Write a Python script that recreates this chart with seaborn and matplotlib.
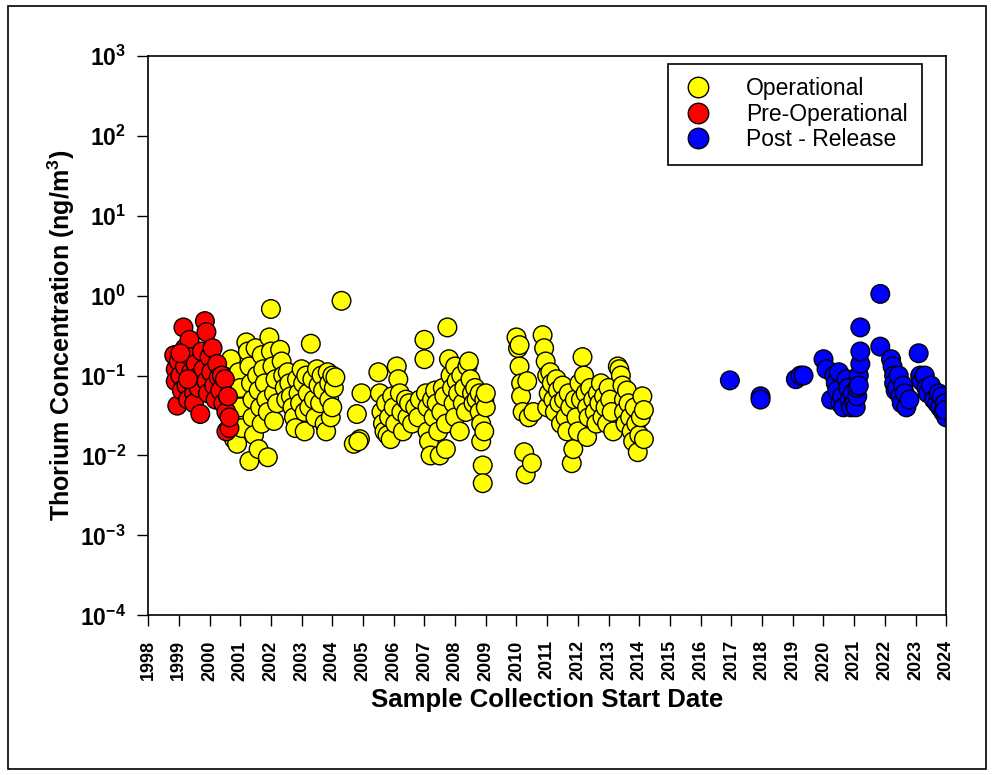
import matplotlib
matplotlib.use("Agg")
import matplotlib.pyplot as plt
import numpy as np
import pandas as pd
import seaborn as sns
from matplotlib.patches import Rectangle
from matplotlib.ticker import FuncFormatter, LogLocator, NullLocator

# (decimal year, thorium ng/m3)
PRE_OPERATIONAL = [
    (1998.85, 0.18), (1998.9, 0.12), (1998.9, 0.085), (1998.95, 0.042), (1999.0, 0.15),
    (1999.05, 0.1), (1999.1, 0.065), (1999.15, 0.4), (1999.2, 0.22), (1999.2, 0.13),
    (1999.25, 0.075), (1999.3, 0.05), (1999.35, 0.28), (1999.4, 0.17), (1999.4, 0.11),
    (1999.45, 0.08), (1999.5, 0.06), (1999.5, 0.045), (1999.55, 0.14), (1999.6, 0.095),
    (1999.65, 0.07), (1999.7, 0.033), (1999.75, 0.2), (1999.8, 0.12), (1999.85, 0.48),
    (1999.9, 0.35), (1999.9, 0.085), (1999.95, 0.06), (2000.0, 0.17), (2000.05, 0.11),
    (2000.1, 0.22), (2000.15, 0.075), (2000.2, 0.05), (2000.25, 0.14), (2000.3, 0.095),
    (2000.35, 0.065), (2000.4, 0.1), (2000.45, 0.045), (2000.5, 0.09), (2000.55, 0.035),
    (2000.55, 0.02), (2000.6, 0.055), (2000.65, 0.022), (2000.65, 0.03), (1999.05, 0.19),
    (1999.3, 0.09),
]

OPERATIONAL = [
    (2000.7, 0.16), (2000.75, 0.09), (2000.8, 0.05), (2000.85, 0.03), (2000.8, 0.016),
    (2000.9, 0.014), (2000.95, 0.11), (2001.0, 0.07), (2001.0, 0.04), (2001.05, 0.022),
    (2001.2, 0.26), (2001.25, 0.2), (2001.3, 0.13), (2001.3, 0.0085), (2001.35, 0.08),
    (2001.4, 0.05), (2001.4, 0.03), (2001.45, 0.018), (2001.5, 0.22), (2001.55, 0.1),
    (2001.6, 0.065), (2001.6, 0.012), (2001.65, 0.04), (2001.7, 0.025), (2001.7, 0.18),
    (2001.75, 0.12), (2001.8, 0.08), (2001.85, 0.05), (2001.9, 0.0095), (2001.9, 0.035),
    (2001.95, 0.3), (2002.0, 0.68), (2002.0, 0.2), (2002.05, 0.13), (2002.1, 0.06),
    (2002.1, 0.027), (2002.15, 0.09), (2002.2, 0.045), (2002.3, 0.21), (2002.35, 0.15),
    (2002.4, 0.1), (2002.45, 0.07), (2002.5, 0.05), (2002.55, 0.11), (2002.6, 0.08),
    (2002.65, 0.055), (2002.7, 0.04), (2002.75, 0.03), (2002.8, 0.022), (2002.85, 0.09),
    (2002.9, 0.06), (2002.95, 0.045), (2003.0, 0.12), (2003.05, 0.08), (2003.1, 0.035),
    (2003.1, 0.02), (2003.15, 0.1), (2003.2, 0.06), (2003.25, 0.04), (2003.3, 0.25),
    (2003.35, 0.09), (2003.4, 0.05), (2003.45, 0.03), (2003.5, 0.12), (2003.55, 0.075),
    (2003.6, 0.045), (2003.65, 0.1), (2003.7, 0.065), (2003.75, 0.025), (2003.8, 0.02),
    (2003.85, 0.11), (2003.9, 0.08), (2003.9, 0.05), (2003.95, 0.03), (2004.0, 0.1),
    (2004.0, 0.04), (2004.05, 0.07), (2004.1, 0.095), (2004.3, 0.86),
    (2004.7, 0.014), (2004.8, 0.033), (2004.9, 0.016), (2004.95, 0.06), (2004.85, 0.015),
    (2005.5, 0.11), (2005.55, 0.06), (2005.6, 0.035), (2005.65, 0.025), (2005.7, 0.02),
    (2005.75, 0.045), (2005.8, 0.018), (2005.85, 0.03), (2005.9, 0.016), (2005.95, 0.055),
    (2006.0, 0.04), (2006.05, 0.025), (2006.1, 0.13), (2006.15, 0.09), (2006.2, 0.06),
    (2006.25, 0.035), (2006.3, 0.02), (2006.4, 0.05), (2006.45, 0.03), (2006.5, 0.045),
    (2006.6, 0.025), (2006.7, 0.04), (2006.8, 0.03), (2006.85, 0.05),
    (2007.0, 0.28), (2007.0, 0.16), (2007.05, 0.06), (2007.1, 0.04), (2007.1, 0.02),
    (2007.15, 0.015), (2007.2, 0.01), (2007.25, 0.05), (2007.3, 0.03), (2007.35, 0.065),
    (2007.4, 0.045), (2007.45, 0.02), (2007.5, 0.01), (2007.55, 0.035), (2007.6, 0.07),
    (2007.65, 0.055), (2007.7, 0.025), (2007.7, 0.012), (2007.75, 0.4), (2007.8, 0.16),
    (2007.85, 0.1), (2007.9, 0.07), (2007.95, 0.045), (2008.0, 0.13), (2008.0, 0.03),
    (2008.05, 0.085), (2008.1, 0.06), (2008.15, 0.02), (2008.2, 0.1), (2008.25, 0.045),
    (2008.3, 0.07), (2008.35, 0.035), (2008.4, 0.13), (2008.45, 0.15), (2008.5, 0.09),
    (2008.55, 0.06), (2008.6, 0.045), (2008.65, 0.07), (2008.7, 0.05),
    (2008.8, 0.06), (2008.8, 0.035), (2008.85, 0.025), (2008.85, 0.015), (2008.9, 0.0075),
    (2008.9, 0.0045), (2008.95, 0.05), (2009.0, 0.04), (2009.0, 0.06), (2008.95, 0.02),
    (2010.0, 0.3), (2010.05, 0.22), (2010.1, 0.24), (2010.1, 0.13), (2010.15, 0.08),
    (2010.15, 0.055), (2010.2, 0.035), (2010.25, 0.011), (2010.3, 0.0058), (2010.35, 0.085),
    (2010.4, 0.03), (2010.5, 0.008), (2010.55, 0.035),
    (2010.85, 0.32), (2010.9, 0.22), (2010.95, 0.15), (2011.0, 0.1), (2011.0, 0.04),
    (2011.05, 0.06), (2011.1, 0.11), (2011.15, 0.08), (2011.2, 0.05), (2011.25, 0.035),
    (2011.3, 0.09), (2011.35, 0.065), (2011.4, 0.045), (2011.45, 0.025), (2011.5, 0.075),
    (2011.55, 0.05), (2011.6, 0.03), (2011.65, 0.02), (2011.7, 0.06), (2011.75, 0.04),
    (2011.8, 0.008), (2011.85, 0.012), (2011.9, 0.05), (2011.95, 0.03), (2012.0, 0.02),
    (2012.05, 0.08), (2012.1, 0.05), (2012.15, 0.17), (2012.2, 0.1), (2012.25, 0.06),
    (2012.3, 0.04), (2012.3, 0.017), (2012.35, 0.03), (2012.4, 0.07), (2012.5, 0.05),
    (2012.55, 0.035), (2012.6, 0.025), (2012.65, 0.06), (2012.7, 0.045), (2012.75, 0.08),
    (2012.8, 0.03), (2012.85, 0.055), (2012.9, 0.04), (2012.95, 0.025), (2013.0, 0.07),
    (2013.05, 0.05), (2013.1, 0.035), (2013.15, 0.02),
    (2013.3, 0.13), (2013.35, 0.12), (2013.4, 0.1), (2013.45, 0.075), (2013.5, 0.05),
    (2013.5, 0.035), (2013.55, 0.025), (2013.6, 0.065), (2013.65, 0.045), (2013.7, 0.03),
    (2013.75, 0.02), (2013.8, 0.015), (2013.85, 0.04), (2013.9, 0.025), (2013.95, 0.011),
    (2014.0, 0.018), (2014.05, 0.03), (2014.1, 0.055), (2014.15, 0.037), (2014.15, 0.016),
]

POST_RELEASE = [
    (2016.95, 0.087), (2017.95, 0.055), (2017.95, 0.05), (2019.1, 0.09), (2019.25, 0.1),
    (2019.35, 0.1), (2020.0, 0.16), (2020.1, 0.12), (2020.25, 0.05), (2020.35, 0.1),
    (2020.4, 0.08), (2020.45, 0.065), (2020.5, 0.11), (2020.55, 0.045), (2020.6, 0.055),
    (2020.65, 0.04), (2020.75, 0.09), (2020.8, 0.07), (2020.85, 0.05), (2020.9, 0.04),
    (2020.95, 0.06), (2021.0, 0.045), (2021.05, 0.04), (2021.1, 0.055), (2021.1, 0.07),
    (2021.15, 0.1), (2021.15, 0.075), (2021.2, 0.14), (2021.2, 0.2), (2021.2, 0.4),
    (2021.85, 1.05), (2021.85, 0.23), (2022.2, 0.16), (2022.25, 0.13), (2022.3, 0.1),
    (2022.3, 0.08), (2022.35, 0.065), (2022.4, 0.07), (2022.45, 0.1), (2022.5, 0.055),
    (2022.55, 0.045), (2022.6, 0.075), (2022.65, 0.06), (2022.7, 0.04), (2022.8, 0.05),
    (2023.1, 0.19), (2023.15, 0.1), (2023.2, 0.085), (2023.3, 0.1), (2023.35, 0.07),
    (2023.4, 0.06), (2023.5, 0.075), (2023.6, 0.05), (2023.7, 0.045), (2023.75, 0.06),
    (2023.8, 0.04), (2023.85, 0.055), (2023.9, 0.035), (2023.95, 0.045), (2024.0, 0.03),
    (2023.95, 0.037),
]

PERIODS = ["Operational", "Pre-Operational", "Post - Release"]
COLORS = {"Operational": "#ffff00", "Pre-Operational": "#ff0000", "Post - Release": "#0000ff"}
YEARS = list(range(1998, 2025))

plt.rcParams["font.family"] = ["Liberation Sans", "DejaVu Sans"]
plt.rcParams["mathtext.fontset"] = "custom"
plt.rcParams["mathtext.bf"] = "Liberation Sans:bold"
plt.rcParams["mathtext.rm"] = "Liberation Sans"
plt.rcParams["mathtext.default"] = "bf"

# yellow first, then red over it, blue last
frames = []
for name, pts in [("Operational", OPERATIONAL), ("Pre-Operational", PRE_OPERATIONAL),
                  ("Post - Release", POST_RELEASE)]:
    d = pd.DataFrame(pts, columns=["year", "conc"])
    d["period"] = name
    frames.append(d)
df = pd.concat(frames, ignore_index=True)

fig = plt.figure(figsize=(9.94, 7.75), dpi=100)
ax = fig.add_axes([0.149, 0.206, 0.803, 0.722])

sns.scatterplot(
    data=df, x="year", y="conc", hue="period", hue_order=PERIODS,
    palette=COLORS, s=180, edgecolor="black", linewidth=1.0, alpha=1, ax=ax,
)

ax.set_yscale("log")
ax.set_ylim(1e-4, 1e3)
ax.set_xlim(1998, 2024)
ax.yaxis.set_major_locator(LogLocator(base=10, numticks=12))
ax.yaxis.set_minor_locator(NullLocator())
ax.yaxis.set_major_formatter(FuncFormatter(lambda v, _: r"$10^{%d}$" % round(np.log10(v))))
ax.set_xticks(YEARS)
ax.set_xticklabels([str(y) for y in YEARS], rotation=90, fontweight="bold", fontsize=13)
ax.tick_params(axis="y", labelsize=16.5, direction="out", length=8, width=1, pad=8)
ax.tick_params(axis="x", direction="out", length=8, width=1, pad=10)
for sp in ax.spines.values():
    sp.set_color("black")
    sp.set_linewidth(1.2)

ax.set_xlabel("Sample Collection Start Date", fontsize=18.5, fontweight="bold", labelpad=5)
ax.set_ylabel("Thorium Concentration (ng/m$^3$)", fontsize=18, fontweight="bold", labelpad=2)

leg = ax.legend(
    loc="upper right", bbox_to_anchor=(0.969, 0.986), fontsize=16.5, frameon=True,
    fancybox=False, edgecolor="black", framealpha=1, markerscale=1.1,
    handletextpad=1.4, handlelength=1.4, borderpad=0.6, labelspacing=0.1,
    borderaxespad=0,
)
leg.get_frame().set_linewidth(1.2)

fig.patches.append(Rectangle((0.008, 0.008), 0.984, 0.984, transform=fig.transFigure,
                             fill=False, edgecolor="black", linewidth=1.2))

fig.savefig("out.png", dpi=100)
